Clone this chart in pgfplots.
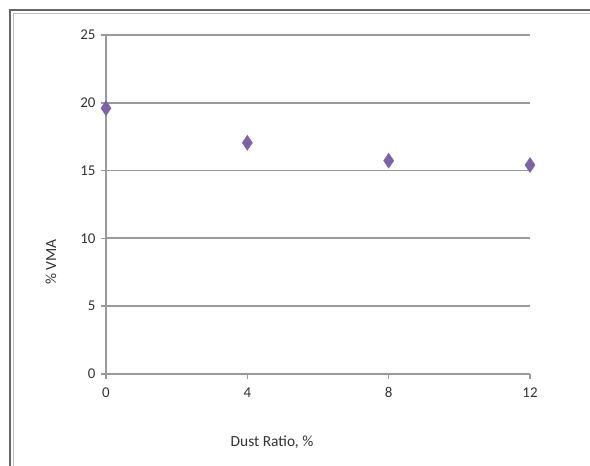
\documentclass[border=0pt]{standalone}
\usepackage{pgfplots}
\pgfplotsset{compat=1.18}
\usepackage{fontspec}
\setmainfont{Carlito}
\definecolor{mk}{HTML}{7B63A6}
\definecolor{gr}{HTML}{9A9A9A}
\begin{document}
\begin{tikzpicture}[x=1bp,y=1bp]
\path[use as bounding box] (0,0) rectangle (590,466);
\fill[white] (0,0) rectangle (590,466);
\draw[line width=2bp, color=black!60] (10,0) -- (10,456) -- (590,456);
\draw[line width=1bp, color=black!25] (13.5,0) -- (13.5,452.5) -- (590,452.5);
\begin{axis}[
  at={(106bp,92bp)}, anchor=south west,
  scale only axis, width=424bp, height=339bp,
  xmin=0, xmax=12, ymin=0, ymax=25,
  xtick={0,4,8,12}, ytick={0,5,10,15,20,25},
  axis x line*=bottom, axis y line*=left,
  axis line style={gr, line width=1.8bp},
  ymajorgrids, grid style={gr, line width=1.8bp},
  tick align=outside, major tick length=5bp,
  tick style={gr, line width=1.6bp},
  every tick label/.append style={font=\fontsize{15}{17}\selectfont, text=black!80},
  /pgf/number format/assume math mode=true,
  yticklabel style={xshift=-2bp},
  xticklabel style={yshift=-5bp},
  clip=false,
]
\addplot[only marks, mark=diamond*, mark size=7.5bp, mark options={fill=mk, draw=mk, xscale=0.9}]
  coordinates {(0,19.6) (4,17.05) (8,15.73) (12,15.41)};
\end{axis}
\node[font=\fontsize{15.5}{17}\selectfont, text=black!80] at (272,24) {Dust Ratio, \%};
\node[font=\fontsize{15.5}{17}\selectfont, text=black!80, rotate=90] at (51,204) {\% VMA};
\end{tikzpicture}
\end{document}
